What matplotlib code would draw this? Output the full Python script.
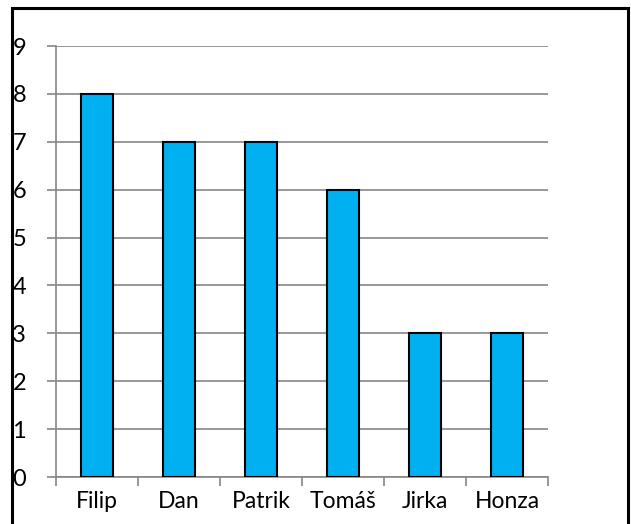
import matplotlib
matplotlib.use("Agg")
import matplotlib.pyplot as plt
from matplotlib.patches import Rectangle
import numpy as np

categories = ["Filip", "Dan", "Patrik", "Tomáš", "Jirka", "Honza"]
values = [8, 7, 7, 6, 3, 3]
yticks = list(range(0, 10))

W, H = 631, 524
fig = plt.figure(figsize=(W/100, H/100), dpi=100)
plt.rcParams['font.family'] = ['Lato', 'DejaVu Sans']

ax = fig.add_axes([56/W, 1-477/H, (548-56)/W, (477-46)/H])
x = np.arange(len(categories))
ax.bar(x, values, width=0.39, color="#00B0F0", edgecolor="black", linewidth=1.5, zorder=3)
ax.set_xlim(-0.5, len(categories)-0.5)
ax.set_ylim(0, 9)
ax.set_yticks(yticks)
ax.set_yticklabels([str(v) for v in yticks], fontsize=17)
ax.set_xticks(x)
ax.set_xticklabels(categories, fontsize=16.5)
ax.set_xticks(np.arange(len(categories)+1)-0.5, minor=True)
ax.tick_params(axis='x', which='major', length=0, pad=10)
ax.tick_params(axis='x', which='minor', length=6.5, color="#868686", width=1.2)
ax.tick_params(axis='y', which='major', length=6.5, color="#868686", width=1.2, pad=15)
ax.grid(axis='y', color="#868686", linewidth=1.2, zorder=0)
for s in ['top', 'right']:
    ax.spines[s].set_visible(False)
for s in ['left', 'bottom']:
    ax.spines[s].set_color("#868686")
    ax.spines[s].set_linewidth(1.2)

# outer chart frame (partially cut off)
fig.patches.append(Rectangle((12/W, -0.1), (628-12)/W, 1.1-8/H, transform=fig.transFigure,
                             fill=False, edgecolor="black", linewidth=2.2))

fig.savefig("out.png", dpi=100)
